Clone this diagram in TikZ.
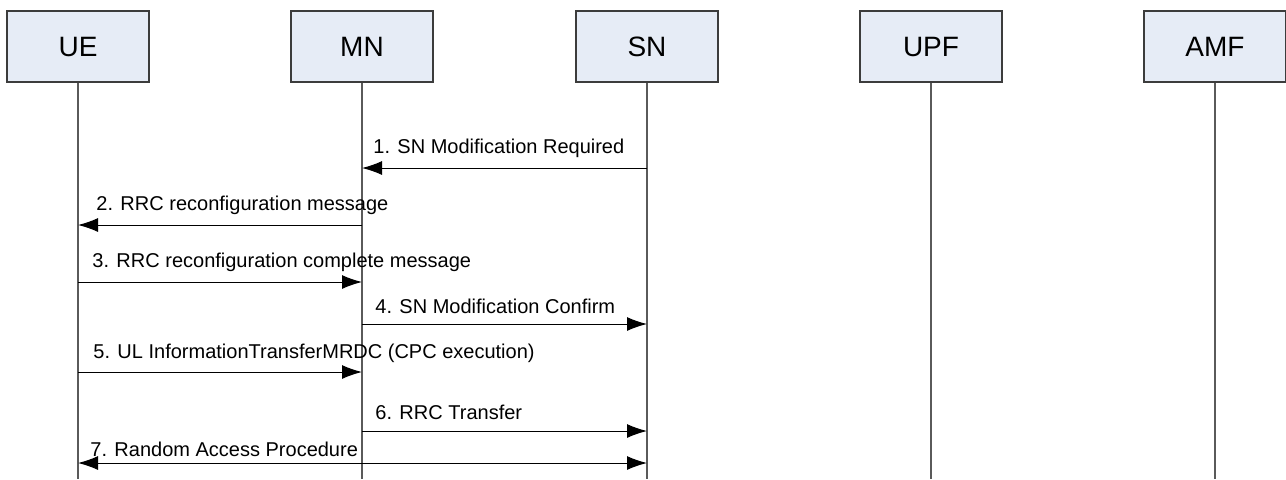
\documentclass[tikz,border=0pt]{standalone}
\usepackage{fontspec}
\setmainfont{Liberation Sans}
\usetikzlibrary{arrows.meta}
\definecolor{boxfill}{RGB}{230,236,246}
\definecolor{boxline}{RGB}{60,60,60}
\definecolor{lifegray}{RGB}{90,90,90}
\tikzset{
    entity/.style={draw=boxline, fill=boxfill, line width=0.6pt, minimum width=71pt, minimum height=35.5pt, inner sep=0pt, font=\fontsize{14}{16}\selectfont},
    lifeline/.style={draw=lifegray, line width=0.6pt},
    msg/.style={draw=black, line width=0.5pt, -{Latex[length=10pt,width=7pt]}},
    msglabel/.style={anchor=base west, inner sep=0pt, font=\fontsize{10}{12}\selectfont}
}
\begin{document}
\begin{tikzpicture}[x=0.5pt, y=-0.5pt]
    \useasboundingbox (0,0) rectangle (1286,479);
    % entities
    \node[entity] (ue) at (78,46.5) {UE};
    \node[entity] (mn) at (362,46.5) {MN};
    \node[entity] (sn) at (647,46.5) {SN};
    \node[entity] (upf) at (931,46.5) {UPF};
    \node[entity] (amf) at (1215,46.5) {AMF};
    % lifelines
    \coordinate (ue-end) at (78,479);
    \coordinate (mn-end) at (362,479);
    \coordinate (sn-end) at (647,479);
    \coordinate (upf-end) at (931,479);
    \coordinate (amf-end) at (1215,479);
    \draw[lifeline] (ue.south) -- (ue-end);
    \draw[lifeline] (mn.south) -- (mn-end);
    \draw[lifeline] (sn.south) -- (sn-end);
    \draw[lifeline] (upf.south) -- (upf-end);
    \draw[lifeline] (amf.south) -- (amf-end);
    % messages
    \draw[msg] (sn |- 0,168) -- (mn |- 0,168);
    \node[msglabel] (m1) at (373,153) {1. SN Modification Required};
    \draw[msg] (mn |- 0,225) -- (ue |- 0,225);
    \node[msglabel] (m2) at (96,210) {2. RRC reconfiguration message};
    \draw[msg] (ue |- 0,282) -- (mn |- 0,282);
    \node[msglabel] (m3) at (92,267) {3. RRC reconfiguration complete message};
    \draw[msg] (mn |- 0,324) -- (sn |- 0,324);
    \node[msglabel] (m4) at (375,313) {4. SN Modification Confirm};
    \draw[msg] (ue |- 0,372) -- (mn |- 0,372);
    \node[msglabel] (m5) at (93,358) {5. UL InformationTransferMRDC (CPC execution)};
    \draw[msg] (mn |- 0,431) -- (sn |- 0,431);
    \node[msglabel] (m6) at (375,419) {6. RRC Transfer};
    \draw[msg, {Latex[length=10pt,width=7pt]}-{Latex[length=10pt,width=7pt]}] (ue |- 0,463) -- (sn |- 0,463);
    \node[msglabel] (m7) at (90,456) {7. Random Access Procedure};
\end{tikzpicture}
\end{document}
